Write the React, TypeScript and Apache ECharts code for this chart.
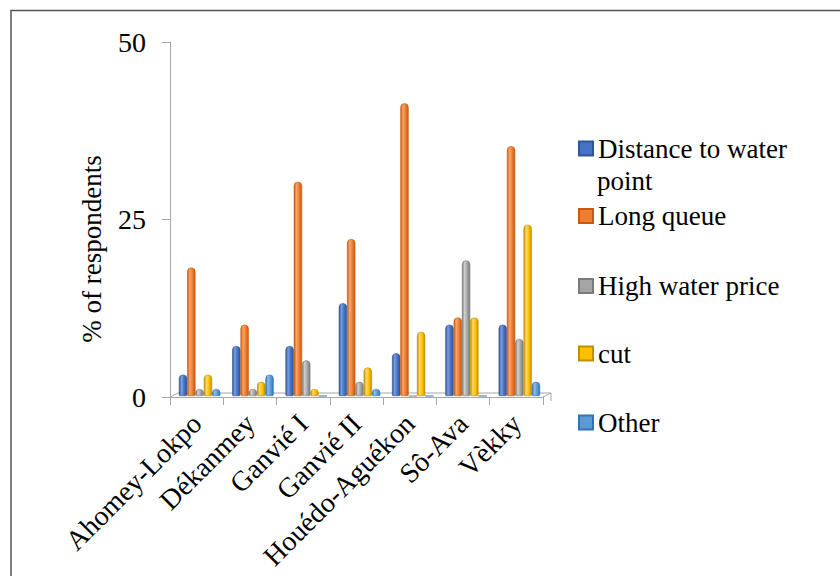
import React, { useEffect, useRef } from "react";
import * as echarts from "echarts";

const categories = ["Ahomey-Lokpo", "Dékanmey", "Ganvié I", "Ganvié II", "Houédo-Aguékon", "Sô-Ava", "Vèkky"];
const seriesNames = ["Distance to water point", "Long queue", "High water price", "cut", "Other"];
const distanceToWater = [3, 7, 7, 13, 6, 10, 10];
const longQueue = [18, 10, 30, 22, 41, 11, 35];
const highWaterPrice = [1, 1, 5, 2, 0, 19, 8];
const cut = [3, 2, 1, 4, 9, 11, 24];
const other = [1, 3, 0, 1, 0, 0, 2];
const yTicks = [0, 25, 50];

const seriesValues = [distanceToWater, longQueue, highWaterPrice, cut, other];
const baseColors = ["#4472C4", "#ED7D31", "#A5A5A5", "#FFC000", "#5B9BD5"];
const darkColors = ["#2F5597", "#C55A11", "#7B7B7B", "#BF9000", "#2E75B6"];
const lightColors = ["#7A9DE0", "#F9A56A", "#CFCFCF", "#FFD966", "#8FBCE6"];
const legendCenters = [148.5, 216, 286, 353.5, 422.5];

const FONT = "Liberation Serif";

export default function App() {
  const ref = useRef<HTMLDivElement>(null);
  useEffect(() => {
    if (!ref.current) return;
    const chart = echarts.init(ref.current, null, { renderer: "svg" });
    const grad = (i: number) =>
      new echarts.graphic.LinearGradient(0, 0, 1, 0, [
        { offset: 0, color: darkColors[i] },
        { offset: 0.3, color: lightColors[i] },
        { offset: 0.65, color: baseColors[i] },
        { offset: 1, color: darkColors[i] },
      ]);
    const legends = seriesNames.map((name, i) => ({
      show: true,
      data: [{ name, itemStyle: { color: baseColors[i] } }],
      left: 578,
      top: legendCenters[i] - 16,
      orient: "vertical",
      padding: 0,
      itemWidth: 14,
      itemHeight: 14,
      icon: "rect",
      selectedMode: false,
      formatter: i === 0 ? () => "Distance to water" : undefined,
      textStyle: {
        fontFamily: FONT,
        fontSize: 27,
        lineHeight: 32,
        color: "#000",
      },
    }));
    chart.setOption({
      animation: false,
      backgroundColor: "#fff",
      legend: legends,
      grid: [
        { left: 170, right: 297, top: 42, bottom: 179 },
        { left: 173, right: 294, top: 39, bottom: 180 },
      ],
      xAxis: [
        {
          type: "category",
          gridIndex: 0,
          data: categories,
          boundaryGap: true,
          axisLine: { show: true, lineStyle: { color: "#a6a6a6", width: 1 } },
          axisTick: { show: true, length: 8, lineStyle: { color: "#a6a6a6" } },
          axisLabel: {
            interval: 0,
            rotate: 45,
            margin: 22,
            fontFamily: FONT,
            fontSize: 28,
            color: "#000",
          },
        },
        {
          type: "category",
          gridIndex: 1,
          data: categories,
          show: false,
        },
      ],
      yAxis: [
        {
          type: "value",
          gridIndex: 0,
          min: 0,
          max: 50,
          interval: 25,
          axisLine: { show: true, lineStyle: { color: "#a6a6a6", width: 1 } },
          axisTick: { show: true, length: 8, lineStyle: { color: "#a6a6a6" } },
          splitLine: { show: false },
          axisLabel: {
            margin: 24,
            fontFamily: FONT,
            fontSize: 28,
            color: "#000",
            formatter: (v: number) => (yTicks.includes(v) ? String(v) : ""),
          },
        },
        {
          type: "value",
          gridIndex: 1,
          min: 0,
          max: 50,
          interval: 25,
          show: false,
          splitLine: { show: false },
        },
      ],
      graphic: [
        {
          type: "polyline",
          shape: { points: [[11, 576], [11, 10.5], [840, 10.5]] },
          style: { stroke: "#555", lineWidth: 1.5, fill: "none" },
          silent: true,
        },
        {
          type: "polyline",
          shape: { points: [[170, 397], [178, 393], [551, 393], [543, 397]] },
          style: { stroke: "#a6a6a6", lineWidth: 1, fill: "none" },
          silent: true,
          z: -1,
        },
        {
          type: "line",
          shape: { x1: 551, y1: 393, x2: 551, y2: 401 },
          style: { stroke: "#a6a6a6", lineWidth: 1 },
          silent: true,
        },
        {
          type: "text",
          x: 597,
          y: 180.5,
          style: {
            text: "point",
            fontFamily: FONT,
            fontSize: 27,
            fill: "#000",
            align: "left",
            verticalAlign: "middle",
          },
          silent: true,
        },
        {
          type: "text",
          x: 92,
          y: 249,
          rotation: Math.PI / 2,
          style: {
            text: "% of respondents",
            fontFamily: FONT,
            fontSize: 27,
            fill: "#000",
            align: "center",
            verticalAlign: "middle",
          },
          silent: true,
        },
      ],
      series: seriesValues.map((vals, i) => ({
        name: seriesNames[i],
        type: "bar",
        xAxisIndex: 1,
        yAxisIndex: 1,
        data: vals,
        barWidth: 8.3,
        barGap: "0%",
        itemStyle: {
          color: grad(i),
          borderColor: darkColors[i],
          borderWidth: 0.6,
          borderRadius: [4, 4, 1, 1],
        },
      })),
    });
    return () => chart.dispose();
  }, []);
  return (
    <div
      ref={ref}
      style={{ position: "absolute", left: 0, top: 0, width: 840, height: 576 }}
    />
  );
}
